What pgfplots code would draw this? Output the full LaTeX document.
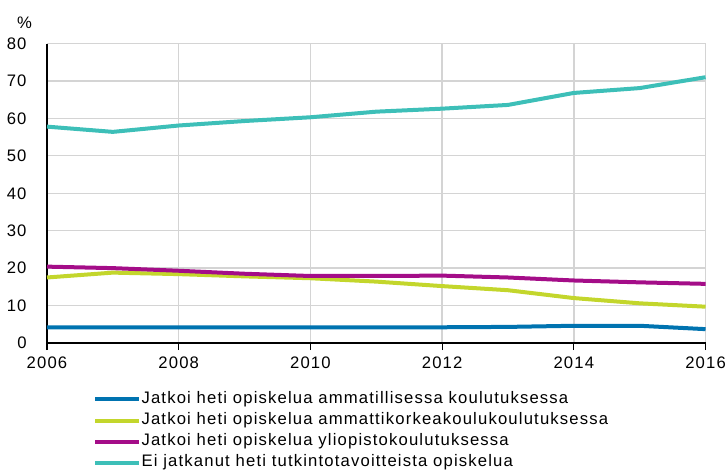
\documentclass[border=0pt]{standalone}
\usepackage{fontspec}
\setmainfont{Liberation Sans}[LetterSpace=7]
\usepackage{pgfplots}
\pgfplotsset{compat=1.18}
\newcommand\f{\fontsize{12.5pt}{15pt}\selectfont}
\definecolor{cblue}{HTML}{0073B0}
\definecolor{cgreen}{HTML}{C3D62C}
\definecolor{cmag}{HTML}{A40D88}
\definecolor{ccyan}{HTML}{3DBFB8}
\definecolor{gridc}{HTML}{D4D4D4}
\begin{document}
\begin{tikzpicture}
\begin{axis}[
  name=ax,
  scale only axis,
  width=493.9pt, height=224.6pt,
  xmin=2006, xmax=2016, ymin=0, ymax=80,
  xtick={2006,2008,...,2016},
  ytick={0,10,...,80},
  xticklabel style={/pgf/number format/1000 sep={}},
  /pgf/number format/assume math mode=true,
  axis x line*=bottom, axis y line*=left,
  axis line style={black, line width=0.8pt},
  grid=major,
  major grid style={gridc, line width=1pt},
  tick align=outside,
  xtick style={black, line width=0.8pt, /pgfplots/major tick length=5.25pt},
  ytick style={/pgfplots/major tick length=0pt, draw=none},
  ticklabel style={font=\f},
  yticklabel style={inner xsep=0pt, xshift=-10.9pt},
  xticklabel style={inner ysep=0pt, yshift=-6pt},
  every axis plot/.append style={line width=3pt, line join=round},
  legend style={at={(axis description cs:0.0699,-0.161)}, anchor=north west,
    draw=none, fill=none, inner sep=0pt, font=\f, row sep=3.8pt,
    nodes={inner xsep=0.2pt, inner ysep=0pt, text height=9pt, text depth=3pt}},
  legend cell align=left,
  legend image code/.code={\draw[#1] (0pt,0pt) -- (33pt,0pt);},
  clip=false,
]
\addplot[cblue] coordinates {(2006,4.2) (2007,4.2) (2008,4.2) (2009,4.2) (2010,4.2) (2011,4.2) (2012,4.2) (2013,4.3) (2014,4.6) (2015,4.6) (2016,3.7)};
\addlegendentry{Jatkoi heti opiskelua ammatillisessa koulutuksessa}
\addplot[cgreen] coordinates {(2006,17.5) (2007,18.8) (2008,18.4) (2009,17.8) (2010,17.3) (2011,16.4) (2012,15.2) (2013,14.1) (2014,12.0) (2015,10.6) (2016,9.7)};
\addlegendentry{Jatkoi heti opiskelua ammattikorkeakoulukoulutuksessa}
\addplot[cmag] coordinates {(2006,20.4) (2007,20.0) (2008,19.3) (2009,18.5) (2010,17.9) (2011,17.9) (2012,18.0) (2013,17.5) (2014,16.7) (2015,16.2) (2016,15.8)};
\addlegendentry{Jatkoi heti opiskelua yliopistokoulutuksessa}
\addplot[ccyan] coordinates {(2006,57.8) (2007,56.4) (2008,58.1) (2009,59.3) (2010,60.3) (2011,61.8) (2012,62.6) (2013,63.6) (2014,66.8) (2015,68.1) (2016,71.0)};
\addlegendentry{Ei jatkanut heti tutkintotavoitteista opiskelua}
\end{axis}
\node[anchor=base, font=\f] at ([shift={(-16.9pt,11.6pt)}]ax.north west) {\%};
\pgfresetboundingbox
\path[use as bounding box] ([shift={(-35.25pt,-95.25pt)}]ax.south west) rectangle ([shift={(510pt,257.25pt)}]ax.south west);
\end{tikzpicture}
\end{document}
